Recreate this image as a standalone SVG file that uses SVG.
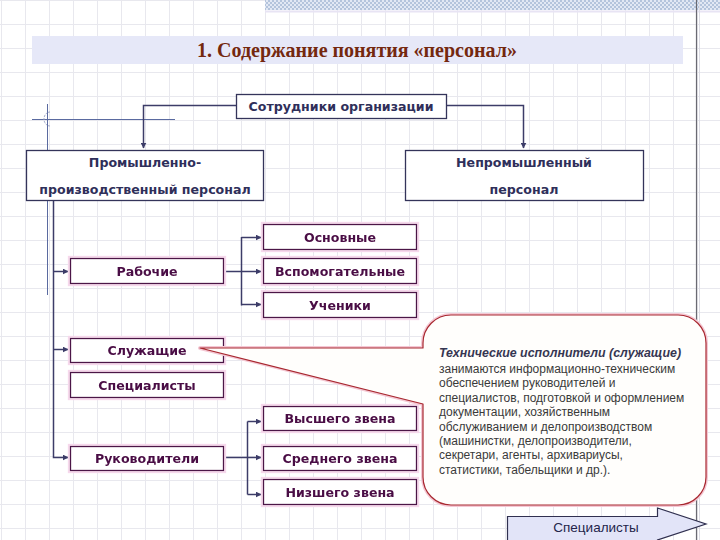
<svg xmlns="http://www.w3.org/2000/svg" width="720" height="540" viewBox="0 0 720 540">
<defs>
<pattern id="grid" x="1" y="0" width="24" height="24" patternUnits="userSpaceOnUse">
<path d="M0.5,0 V24 M0,0.5 H24" fill="none" stroke="#e8e8ee" stroke-width="1"/>
</pattern>
<pattern id="checker" x="0" y="0" width="4" height="4" patternUnits="userSpaceOnUse">
<rect width="4" height="4" fill="#e2e8f4"/>
<rect width="2" height="2" fill="#b4c4dc"/>
<rect x="2" y="2" width="2" height="2" fill="#b4c4dc"/>
</pattern>
<marker id="arr" viewBox="0 0 10 10" refX="9" refY="5" markerWidth="6" markerHeight="6" markerUnits="userSpaceOnUse" orient="auto">
<path d="M0,0 L10,5 L0,10 Z" fill="#3c3c68"/>
</marker>
<filter id="glow" x="-10%" y="-30%" width="120%" height="160%">
<feMorphology in="SourceAlpha" operator="dilate" radius="2" result="d"/>
<feFlood flood-color="#f6d8ec" result="c"/>
<feComposite in="c" in2="d" operator="in" result="g"/>
<feMerge><feMergeNode in="g"/><feMergeNode in="SourceGraphic"/></feMerge>
</filter>
</defs>
<style>
.main{fill:#ffffff;stroke:#34345a;stroke-width:1.3}
.sub{fill:#ffffff;stroke:#4b1446;stroke-width:1.3}
.tm{font-family:"DejaVu Sans",sans-serif;font-weight:bold;font-size:12.6px;fill:#2f2f5a;text-anchor:middle}
.ts{font-family:"DejaVu Sans",sans-serif;font-weight:bold;font-size:12.6px;fill:#4a0c44;text-anchor:middle}
.con{fill:none;stroke:#3c3c68;stroke-width:1.5}
.body{font-family:"Liberation Sans",Arial,sans-serif;font-size:12px;fill:#3a3a3a}
</style>
<rect width="720" height="540" fill="#ffffff"/>
<rect width="720" height="540" fill="url(#grid)"/>
<rect x="265" y="0" width="455" height="10" fill="url(#checker)"/>
<line x1="265" y1="11.5" x2="720" y2="11.5" stroke="#e8e4f4" stroke-width="2"/>
<line x1="696.5" y1="0" x2="696.5" y2="540" stroke="#6a6a72" stroke-width="1.2"/>
<line x1="699.5" y1="0" x2="699.5" y2="540" stroke="#dcdce4" stroke-width="1"/>

<g id="title">
<rect x="32" y="36" width="651" height="28" fill="#e6e8f8"/>
<text x="357" y="57" font-family="Liberation Serif,serif" font-weight="bold" font-size="20" fill="#74280f" text-anchor="middle">1. Содержание понятия «персонал»</text>
</g>

<g id="guide" stroke="#5a6aa0" fill="none">
<line x1="32" y1="119.5" x2="175" y2="119.5" stroke-width="1"/>
<line x1="47.5" y1="104" x2="47.5" y2="295" stroke-width="1"/>
<path d="M50,112 A6,7 0 1 0 50,126" stroke="#a0a8c8" stroke-width="1" stroke-dasharray="2,1"/>
</g>

<g id="connectors">
<path class="con" d="M236,105.5 H143.5 V148" marker-end="url(#arr)"/>
<path class="con" d="M446,105.5 H523.5 V148" marker-end="url(#arr)"/>
<path class="con" d="M53.5,200 V457.5 H68" marker-end="url(#arr)"/>
<path class="con" d="M53.5,271.5 H68" marker-end="url(#arr)"/>
<path class="con" d="M53.5,349.5 H68" marker-end="url(#arr)"/>
<path class="con" d="M223,271.5 H261" marker-end="url(#arr)"/>
<path class="con" d="M241.5,237 V305.5" />
<path class="con" d="M241.5,237.5 H261" marker-end="url(#arr)"/>
<path class="con" d="M241.5,304.5 H261" marker-end="url(#arr)"/>
<path class="con" d="M223,457.5 H261" marker-end="url(#arr)"/>
<path class="con" d="M247.5,421.5 V494.5" />
<path class="con" d="M247.5,421.5 H261" marker-end="url(#arr)"/>
<path class="con" d="M247.5,494.5 H261" marker-end="url(#arr)"/>
</g>

<g id="n-staff">
<rect class="main" x="236.5" y="94.5" width="210" height="24"/>
<text class="tm" x="341" y="111">Сотрудники организации</text>
</g>
<g id="n-industrial">
<rect class="main" x="26.5" y="150.5" width="237" height="50"/>
<text class="tm" x="145" y="167">Промышленно-</text>
<text class="tm" x="145" y="194">производственный персонал</text>
</g>
<g id="n-nonindustrial">
<rect class="main" x="405.5" y="150.5" width="238" height="50"/>
<text class="tm" x="524" y="167">Непромышленный</text>
<text class="tm" x="524" y="194">персонал</text>
</g>

<g id="n-workers" filter="url(#glow)">
<rect class="sub" x="70.5" y="258.5" width="153" height="25"/>
<text class="ts" x="147" y="275.5">Рабочие</text>
</g>
<g id="n-main" filter="url(#glow)">
<rect class="sub" x="263.5" y="224.5" width="153" height="25"/>
<text class="ts" x="340" y="241.5">Основные</text>
</g>
<g id="n-aux" filter="url(#glow)">
<rect class="sub" x="263.5" y="258.5" width="153" height="25"/>
<text class="ts" x="340" y="275.5">Вспомогательные</text>
</g>
<g id="n-pupils" filter="url(#glow)">
<rect class="sub" x="263.5" y="292.5" width="153" height="25"/>
<text class="ts" x="340" y="309.5">Ученики</text>
</g>
<g id="n-employees" filter="url(#glow)">
<rect class="sub" x="70.5" y="338.5" width="153" height="24"/>
<text class="ts" x="147" y="355">Служащие</text>
</g>
<g id="n-specialists" filter="url(#glow)">
<rect class="sub" x="70.5" y="372.5" width="153" height="25"/>
<text class="ts" x="147" y="389.5">Специалисты</text>
</g>
<g id="n-managers" filter="url(#glow)">
<rect class="sub" x="70.5" y="446.5" width="153" height="24"/>
<text class="ts" x="147" y="463">Руководители</text>
</g>
<g id="n-top" filter="url(#glow)">
<rect class="sub" x="263.5" y="406.5" width="153" height="24"/>
<text class="ts" x="340" y="423">Высшего звена</text>
</g>
<g id="n-middle" filter="url(#glow)">
<rect class="sub" x="263.5" y="446.5" width="153" height="24"/>
<text class="ts" x="340" y="463">Среднего звена</text>
</g>
<g id="n-low" filter="url(#glow)">
<rect class="sub" x="263.5" y="479.5" width="153" height="25"/>
<text class="ts" x="340" y="496.5">Низшего звена</text>
</g>

<g id="callout">
<path d="M451,315 H678 A28,28 0 0 1 706,343 V477 A28,28 0 0 1 678,505 H451 A28,28 0 0 1 423,477 V404 L200,348 L423,348 V343 A28,28 0 0 1 451,315 Z" fill="#fffefc" stroke="#f4c8d4" stroke-width="4" stroke-linejoin="round"/>
<path d="M451,315 H678 A28,28 0 0 1 706,343 V477 A28,28 0 0 1 678,505 H451 A28,28 0 0 1 423,477 V404 L200,348 L423,348 V343 A28,28 0 0 1 451,315 Z" fill="#fffefc" stroke="#a82830" stroke-width="1.2" stroke-linejoin="round"/>
<text x="439" y="357" font-family="Liberation Sans,Arial,sans-serif" font-size="12.4" font-weight="bold" font-style="italic" fill="#363652">Технические исполнители (служащие)</text>
<text class="body" x="439" y="373">занимаются информационно-техническим</text>
<text class="body" x="439" y="387">обеспечением руководителей и</text>
<text class="body" x="439" y="402">специалистов, подготовкой и оформлением</text>
<text class="body" x="439" y="416">документации, хозяйственным</text>
<text class="body" x="439" y="431">обслуживанием и делопроизводством</text>
<text class="body" x="439" y="445">(машинистки, делопроизводители,</text>
<text class="body" x="439" y="459">секретари, агенты, архивариусы,</text>
<text class="body" x="439" y="474">статистики, табельщики и др.).</text>
</g>

<g id="n-arrow">
<path d="M507.5,516.5 H657.5 V508 L706,524 L657.5,540 V545 H507.5 Z" fill="#e2e4f8" stroke="#303050" stroke-width="1.2"/>
<text x="596" y="532" font-family="Liberation Sans,Arial,sans-serif" font-size="13.5" fill="#24244a" text-anchor="middle">Специалисты</text>
</g>
</svg>
